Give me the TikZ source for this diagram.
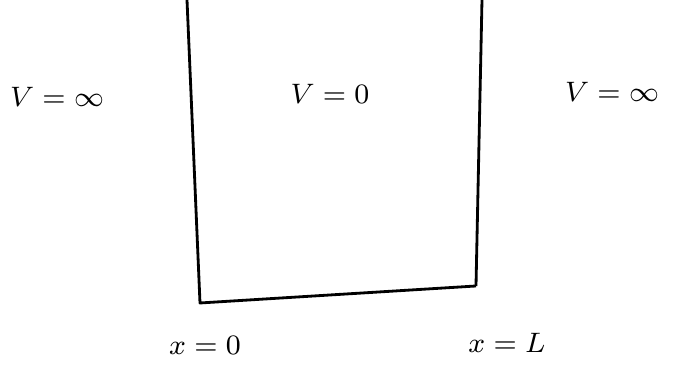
\documentclass[tikz,border=0pt]{standalone}
\usepackage{amsmath,amssymb}
\usetikzlibrary{positioning}
\tikzset{
  wall/.style={thick,line join=round},
  lbl/.style={font=\footnotesize}
}
\begin{document}
\begin{tikzpicture}[x=0.01cm,y=-0.01cm]
\useasboundingbox (0,0) rectangle (681,371);
\coordinate (TL) at (187,0);
\coordinate (BL) at (200,303);
\coordinate (BR) at (476,286);
\coordinate (TR) at (482,0);
\draw[wall] (TL) -- (BL) -- (BR);
\draw[wall] (TR) -- (BR);
\node[lbl] (vleft) at (57,97) {$V=\infty$};
\node[lbl] (vmid) at (330,94) {$V=0$};
\node[lbl] (vright) at (612,92) {$V=\infty$};
\node[lbl] (x0) at (205,345) {$x=0$};
\node[lbl] (xL) at (507,343) {$x=L$};
\end{tikzpicture}
\end{document}
